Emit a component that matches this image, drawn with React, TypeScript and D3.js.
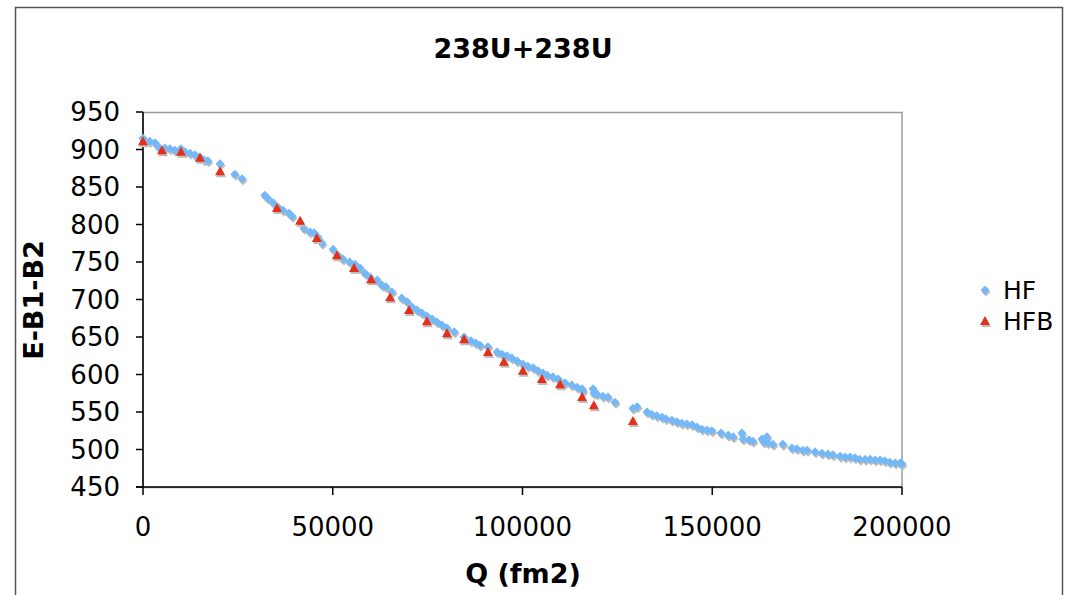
import React from 'react';
import * as d3 from 'd3';

// HF series: Q (fm2) and E-B1-B2
const hfQ = [
  0, 1800, 3200, 4200, 5800, 7100, 8400, 10000, 11100, 12400, 13700, 15000, 16100, 17100,
  20300, 24200, 26100, 32100, 32900, 34300, 35600, 36900, 38500, 39300, 42400, 44000, 45100,
  46100, 47200, 50100, 51400, 52700, 54500, 55900, 57200, 58500, 59800, 61700, 63000, 64000,
  65600, 68200, 69600, 70900, 72200, 73500, 74800, 76200, 77500, 78800, 80100, 82000, 84600,
  86400, 87700, 88800, 90900, 93300, 94600, 95900, 97200, 98600, 100100, 101400, 102800,
  104100, 105400, 106500, 108000, 109400, 111200, 113000, 114400, 115700, 115900, 118600,
  118800, 119600, 121200, 122500, 124400, 129100, 130200, 132800, 134100, 135400, 136800,
  137800, 139400, 140700, 142000, 143300, 144700, 146000, 147300, 148600, 149900, 152300,
  154200, 155500, 157800, 158100, 159700, 160700, 163100, 163600, 164400, 164600, 166000,
  168600, 171000, 172300, 173900, 175000, 177100, 178900, 180500, 181800, 183700, 185000,
  186300, 187600, 188900, 190300, 191600, 192900, 194200, 195500, 196800, 198200, 199500, 200000,
];
const hfE = [
  915, 911, 909, 903, 902, 901, 899, 901, 897, 895, 893, 890, 886, 885,
  881, 867, 861, 839, 835, 829, 823, 819, 815, 811, 795, 790, 789,
  783, 775, 767, 759, 754, 750, 747, 742, 735, 730, 726, 719, 717,
  710, 702, 697, 690, 686, 682, 678, 674, 670, 666, 662, 657, 650,
  645, 642, 639, 637, 630, 627, 625, 622, 618, 614, 611, 609,
  605, 602, 599, 597, 594, 589, 586, 583, 581, 578, 581,
  575, 574, 571, 570, 563, 555, 557, 550, 547, 545, 543,
  541, 539, 537, 535, 534, 533, 530, 527, 526, 525, 522,
  519, 517, 522, 514, 513, 511, 514, 510, 517, 509, 507,
  507, 502, 501, 499, 499, 497, 495, 494, 493, 491, 490,
  490, 489, 487, 487, 487, 486, 486, 485, 483, 482, 482, 481,
];

// HFB series
const hfbQ = [
  0, 5000, 10000, 15000, 20300, 35300, 41400, 45800, 51100, 55600, 60100, 65100,
  70100, 74800, 80100, 84600, 90900, 95100, 100100, 105100, 109900, 115700, 118800, 129100,
];
const hfbE = [
  911, 899, 897, 889, 871, 822, 805, 782, 759, 742, 727, 703,
  686, 671, 655, 647, 630, 617, 605, 594, 587, 570, 559, 538,
];

const xTicks = [0, 50000, 100000, 150000, 200000];
const yTicks = [450, 500, 550, 600, 650, 700, 750, 800, 850, 900, 950];
const seriesNames = ['HF', 'HFB'];

const W = 1070;
const H = 595;
const plot = { left: 143, top: 112, right: 902, bottom: 487 };
const FONT = '"DejaVu Sans", Verdana, sans-serif';
const BLUE = '#74b8f7';
const RED = '#e3301a';
const SHADOW = '#bdbdbd';

const diamond = 'M0,-4.5L4.5,0L0,4.5L-4.5,0Z';
const triangle = 'M0,-5L5,4L-5,4Z';

export default function App() {
  const x = d3.scaleLinear().domain([0, 200000]).range([plot.left, plot.right]);
  const y = d3.scaleLinear().domain([450, 950]).range([plot.bottom, plot.top]);

  const hf = hfQ.map((q, i) => ({ q, e: hfE[i] }));
  const hfb = hfbQ.map((q, i) => ({ q, e: hfbE[i] }));

  return (
    <svg
      width={W}
      height={H}
      style={{ position: 'absolute', left: 0, top: 0, background: '#fff' }}
      fontFamily={FONT}
    >
      <rect x={0} y={0} width={W} height={H} fill="#fff" />
      {/* outer chart frame */}
      <rect x={15.5} y={7.5} width={1047} height={620} fill="none" stroke="#555" strokeWidth={1.5} />

      {/* plot area border */}
      <rect
        x={plot.left}
        y={plot.top + 0.5}
        width={plot.right - plot.left}
        height={plot.bottom - plot.top}
        fill="none"
        stroke="#9a9a9a"
        strokeWidth={1.5}
      />

      {/* title */}
      <text x={523} y={58} textAnchor="middle" fontSize={27} fontWeight="bold" fill="#000">
        238U+238U
      </text>

      {/* y axis */}
      <line x1={plot.left} x2={plot.left} y1={plot.top} y2={plot.bottom} stroke="#000" strokeWidth={1.5} />
      {yTicks.map((t) => (
        <g key={'y' + t}>
          <line x1={plot.left - 7} x2={plot.left} y1={y(t)} y2={y(t)} stroke="#000" strokeWidth={1.5} />
          <text x={120} y={y(t)} dy="0.36em" textAnchor="end" fontSize={26} fill="#000">
            {t}
          </text>
        </g>
      ))}

      {/* x axis */}
      <line x1={plot.left - 7} x2={plot.right} y1={plot.bottom} y2={plot.bottom} stroke="#000" strokeWidth={1.5} />
      {xTicks.map((t) => (
        <g key={'x' + t}>
          <line x1={x(t)} x2={x(t)} y1={plot.bottom} y2={plot.bottom + 8} stroke="#000" strokeWidth={1.5} />
          <text x={x(t)} y={536} textAnchor="middle" fontSize={26} fill="#000">
            {t}
          </text>
        </g>
      ))}

      {/* axis titles */}
      <text x={523} y={583} textAnchor="middle" fontSize={27} fontWeight="bold" fill="#000">
        Q (fm2)
      </text>
      <text
        transform="translate(43,300) rotate(-90)"
        textAnchor="middle"
        fontSize={27}
        fontWeight="bold"
        fill="#000"
      >
        E-B1-B2
      </text>

      {/* shadows */}
      {hf.map((d, i) => (
        <path key={'hs' + i} d={diamond} transform={`translate(${x(d.q) + 1},${y(d.e) + 2})`} fill={SHADOW} />
      ))}
      {hf.map((d, i) => (
        <path key={'h' + i} d={diamond} transform={`translate(${x(d.q)},${y(d.e)})`} fill={BLUE} />
      ))}
      {hfb.map((d, i) => (
        <path key={'bs' + i} d={triangle} transform={`translate(${x(d.q) + 1},${y(d.e) + 2})`} fill={SHADOW} />
      ))}
      {hfb.map((d, i) => (
        <path key={'b' + i} d={triangle} transform={`translate(${x(d.q)},${y(d.e)})`} fill={RED} />
      ))}

      {/* legend */}
      {seriesNames.map((name, i) => {
        const ly = 290 + i * 31;
        return (
          <g key={name}>
            <path d={i === 0 ? diamond : triangle} transform={`translate(${985 + 1},${ly + 2})`} fill={SHADOW} />
            <path d={i === 0 ? diamond : triangle} transform={`translate(985,${ly})`} fill={i === 0 ? BLUE : RED} />
            <text x={1003} y={ly} dy="0.36em" fontSize={25} fill="#000">
              {name}
            </text>
          </g>
        );
      })}
    </svg>
  );
}
